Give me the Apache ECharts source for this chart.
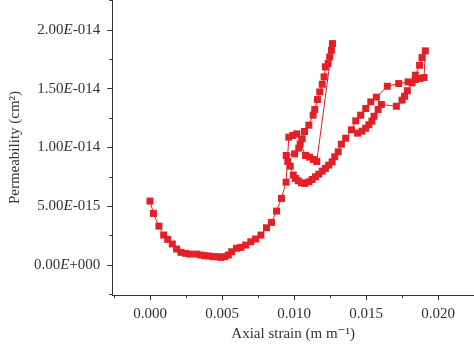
<!DOCTYPE html>
<html>
<head>
<meta charset="utf-8">
<script src="https://cdn.jsdelivr.net/npm/echarts@6/dist/echarts.min.js"></script>
<style>
  html, body { margin: 0; padding: 0; background: #fff; }
  #chart { width: 474px; height: 352px; }
</style>
</head>
<body>
<div id="chart"></div>
<script>
// axial strain (m/m), in measurement order
const strain = [
  0.00000, 0.00024, 0.00062, 0.00095, 0.00123, 0.00155, 0.00185, 0.00215, 0.00248, 0.00277,
  0.00324, 0.00354, 0.00381, 0.00409, 0.00440, 0.00467, 0.00492, 0.00520, 0.00544, 0.00567,
  0.00601, 0.00631, 0.00664, 0.00700, 0.00733, 0.00770, 0.00809, 0.00844, 0.00879, 0.00913, 0.00945,
  0.00964, 0.00992, 0.01019,
  0.01080, 0.01108, 0.01135, 0.01158,
  0.01267, 0.01260, 0.01248, 0.01237, 0.01218, 0.01209, 0.01196, 0.01179, 0.01163, 0.01144,
  0.01133, 0.01103, 0.01073, 0.01057, 0.01043, 0.01033, 0.01004,
  0.00946, 0.00957, 0.00974, 0.00995, 0.01010, 0.01029, 0.01052, 0.01075, 0.01103, 0.01126,
  0.01149, 0.01172, 0.01196, 0.01218, 0.01241, 0.01265, 0.01283, 0.01307,
  0.01329, 0.01359, 0.01399, 0.01429, 0.01463, 0.01498, 0.01533, 0.01572, 0.01648, 0.01727,
  0.01792, 0.01843, 0.01872, 0.01889, 0.01912,
  0.01903,
  0.01872, 0.01843, 0.01820, 0.01787, 0.01768, 0.01750, 0.01711, 0.01607, 0.01584, 0.01556,
  0.01541, 0.01520, 0.01498, 0.01472, 0.01442
]

// permeability, in units of 1e-15 cm^2
const permE15 = [
  5.44, 4.39, 3.31, 2.55, 2.18, 1.79, 1.36, 1.08, 0.99, 0.93,
  0.93, 0.85, 0.79, 0.77, 0.71, 0.71, 0.65, 0.71, 0.85, 1.13,
  1.42, 1.50, 1.70, 1.98, 2.21, 2.55, 3.17, 3.63, 4.59, 5.67, 7.05,
  10.88, 11.02, 11.16,
  9.32, 9.18, 8.98, 8.81,
  18.84, 18.27, 17.70, 17.14, 16.86, 16.01, 15.38, 14.73, 14.08, 13.23,
  12.75, 11.90, 11.36, 10.74, 10.31, 9.94, 9.46,
  9.32, 8.81, 8.41, 7.65, 7.37, 7.17, 7.00, 6.94, 7.08, 7.28,
  7.51, 7.73, 7.99, 8.22, 8.50, 8.78, 9.21, 9.63,
  10.28, 10.79, 11.50, 12.27, 12.75, 13.32, 13.88, 14.28, 15.21, 15.44,
  15.58, 16.15, 17.00, 17.65, 18.22,
  15.95,
  15.87, 15.78, 15.50, 14.83, 14.36, 14.03, 13.51, 13.66, 13.23, 12.66,
  12.24, 11.94, 11.64, 11.39, 11.22
]

const xTicks = [0, 0.005, 0.010, 0.015, 0.020]
const xTickLabels = ['0.000', '0.005', '0.010', '0.015', '0.020']
const xMinorTicks = [-0.0025, 0.0025, 0.0075, 0.0125, 0.0175]

const yTicks = [0, 5, 10, 15, 20]
const yTickLabels = ['0.00E+000', '5.00E-015', '1.00E-014', '1.50E-014', '2.00E-014']
const yMinorTicks = [-2.5, 2.5, 7.5, 12.5, 17.5, 22.5]

const red = '#e41f26'
const ink = '#333'
const serif = '"Liberation Serif", "DejaVu Serif", serif'

const chart = echarts.init(document.getElementById('chart'))

const xRange = { min: -0.00262, max: 0.0225 }
const yRange = { min: -2.55, max: 22.55 }

const option = {
  backgroundColor: '#fff',
  animation: false,
  grid: { left: 111, right: 0, top: 0, bottom: 57 },
  xAxis: [{
    type: 'value',
    ...xRange,
    name: 'Axial strain (m m⁻¹)',
    nameLocation: 'middle',
    nameGap: 31,
    nameTextStyle: { color: ink, fontFamily: serif, fontSize: 15 },
    axisLine: { onZero: false, lineStyle: { color: ink, width: 1 } },
    axisTick: { customValues: xTicks, inside: false, length: 5, lineStyle: { color: ink } },
    axisLabel: {
      customValues: xTicks,
      margin: 12,
      color: ink,
      fontFamily: serif,
      fontSize: 15,
      formatter: (v) => {
        const i = xTicks.findIndex(t => Math.abs(t - v) < 1e-9)
        return i >= 0 ? xTickLabels[i] : ''
      }
    },
    splitLine: { show: false }
  }, {
    // minor ticks only
    type: 'value',
    ...xRange,
    position: 'bottom',
    axisLine: { show: false, onZero: false },
    axisTick: { customValues: xMinorTicks, length: 3, lineStyle: { color: ink } },
    axisLabel: { show: false },
    splitLine: { show: false }
  }],
  yAxis: [{
    type: 'value',
    ...yRange,
    name: 'Permeability (cm²)',
    nameLocation: 'middle',
    nameGap: 88,
    nameTextStyle: { color: ink, fontFamily: serif, fontSize: 15 },
    axisLine: { show: true, onZero: false, lineStyle: { color: ink, width: 1 } },
    axisTick: { show: true, customValues: yTicks, length: 5, lineStyle: { color: ink } },
    axisLabel: {
      customValues: yTicks,
      margin: 12,
      color: ink,
      fontFamily: serif,
      fontSize: 15,
      formatter: (v) => {
        const i = yTicks.findIndex(t => Math.abs(t - v) < 1e-9)
        if (i < 0) return ''
        return yTickLabels[i].replace('E', '{i|E}')
      },
      rich: {
        i: { fontStyle: 'italic', color: ink, fontFamily: serif, fontSize: 15 }
      }
    },
    splitLine: { show: false }
  }, {
    // minor ticks only
    type: 'value',
    ...yRange,
    position: 'left',
    axisLine: { show: false, onZero: false },
    axisTick: { show: true, customValues: yMinorTicks, length: 3, lineStyle: { color: ink } },
    axisLabel: { show: false },
    splitLine: { show: false }
  }],
  series: [{
    type: 'line',
    xAxisIndex: 0,
    yAxisIndex: 0,
    data: strain.map((x, i) => [x, permE15[i]]),
    symbol: 'rect',
    symbolSize: 7,
    showAllSymbol: true,
    itemStyle: { color: red },
    lineStyle: { color: red, width: 1 }
  }]
}

chart.setOption(option)
</script>
</body>
</html>
